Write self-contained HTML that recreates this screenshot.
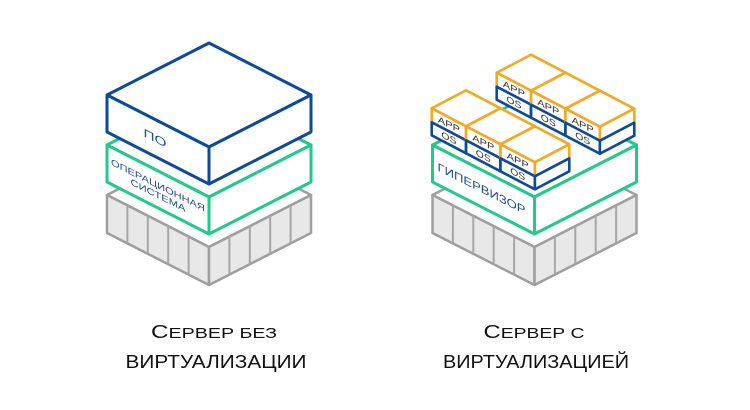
<!DOCTYPE html>
<html>
<head>
<meta charset="utf-8">
<style>
  html, body { margin: 0; padding: 0; background: #ffffff; }
  body { width: 750px; height: 410px; overflow: hidden; }
  svg { display: block; }
  .gray { fill: #e8e8e8; stroke: #9e9e9e; stroke-width: 2.5; stroke-linejoin: round; }
  .graytop { fill: #ffffff; stroke: #9e9e9e; stroke-width: 2.5; stroke-linejoin: round; }
  .div { stroke: #a6a6a6; stroke-width: 2; }
  .green { fill: #ffffff; stroke: #22c98c; stroke-width: 3; stroke-linejoin: round; }
  .blue { fill: #ffffff; stroke: #0e4a9c; stroke-width: 3; stroke-linejoin: round; }
  .app { fill: #ffffff; stroke: #f7a823; stroke-width: 2.6; stroke-linejoin: round; }
  .os { fill: #ffffff; stroke: #0e4a9c; stroke-width: 2.6; stroke-linejoin: round; }
  .lbl { font-family: "Liberation Sans", "DejaVu Sans", sans-serif; fill: #1f4e9e; }
  .vml { font-family: "Liberation Sans", "DejaVu Sans", sans-serif; fill: #333333; font-size: 9px; }
  .cap { font-family: "Liberation Sans", "DejaVu Sans", sans-serif; fill: #111111; }
</style>
</head>
<body>
<svg width="750" height="410" viewBox="0 0 750 410" xmlns="http://www.w3.org/2000/svg">

  <!-- ============ LEFT STACK ============ -->
  <g>
    <polygon class="graytop" points="107,195 209,143 311,195 209,247"/>
    <polygon class="gray" points="107,195 209,247 209,285 107,233"/>
    <polygon class="gray" points="209,247 311,195 311,233 209,285"/>
    <line class="div" x1="127.4" y1="205.4" x2="127.4" y2="243.4"/>
    <line class="div" x1="147.8" y1="215.8" x2="147.8" y2="253.8"/>
    <line class="div" x1="168.2" y1="226.2" x2="168.2" y2="264.2"/>
    <line class="div" x1="188.6" y1="236.6" x2="188.6" y2="274.6"/>
    <line class="div" x1="229.4" y1="236.6" x2="229.4" y2="274.6"/>
    <line class="div" x1="249.8" y1="226.2" x2="249.8" y2="264.2"/>
    <line class="div" x1="270.2" y1="215.8" x2="270.2" y2="253.8"/>
    <line class="div" x1="290.6" y1="205.4" x2="290.6" y2="243.4"/>
  </g>
  <g>
    <polygon class="green" points="107,145 209,93 311,145 209,197"/>
    <polygon class="green" points="107,145 209,197 209,234 107,182"/>
    <polygon class="green" points="209,197 311,145 311,182 209,234"/>
  </g>
  <g>
    <polygon class="blue" points="107,95 209,43 311,95 209,147"/>
    <polygon class="blue" points="107,95 209,147 209,184 107,132"/>
    <polygon class="blue" points="209,147 311,95 311,132 209,184"/>
  </g>
  <g transform="translate(158,139.5) matrix(1,0.5,0,1,0,0)">
    <text class="lbl" x="-3" y="4" font-size="11.5" text-anchor="middle" textLength="23" lengthAdjust="spacingAndGlyphs">ПО</text>
  </g>
  <g transform="translate(158,189.5) matrix(1,0.5,0,1,0,0)">
    <text class="lbl" x="0" y="-1.2" font-size="9" text-anchor="middle" textLength="94" lengthAdjust="spacingAndGlyphs">ОПЕРАЦИОННАЯ</text>
    <text class="lbl" x="0" y="8.8" font-size="9" text-anchor="middle" textLength="55" lengthAdjust="spacingAndGlyphs">СИСТЕМА</text>
  </g>

  <!-- ============ RIGHT STACK ============ -->
  <g transform="translate(325.5,0)">
    <polygon class="graytop" points="107,195 209,143 311,195 209,247"/>
    <polygon class="gray" points="107,195 209,247 209,285 107,233"/>
    <polygon class="gray" points="209,247 311,195 311,233 209,285"/>
    <line class="div" x1="127.4" y1="205.4" x2="127.4" y2="243.4"/>
    <line class="div" x1="147.8" y1="215.8" x2="147.8" y2="253.8"/>
    <line class="div" x1="168.2" y1="226.2" x2="168.2" y2="264.2"/>
    <line class="div" x1="188.6" y1="236.6" x2="188.6" y2="274.6"/>
    <line class="div" x1="229.4" y1="236.6" x2="229.4" y2="274.6"/>
    <line class="div" x1="249.8" y1="226.2" x2="249.8" y2="264.2"/>
    <line class="div" x1="270.2" y1="215.8" x2="270.2" y2="253.8"/>
    <line class="div" x1="290.6" y1="205.4" x2="290.6" y2="243.4"/>

    <polygon class="green" points="107,145 209,93 311,145 209,197"/>
    <polygon class="green" points="107,145 209,197 209,234 107,182"/>
    <polygon class="green" points="209,197 311,145 311,182 209,234"/>
  </g>
  <g transform="translate(483.5,189.5) matrix(1,0.5,0,1,0,0)">
    <text class="lbl" x="-2" y="4" font-size="11.5" text-anchor="middle" textLength="88" lengthAdjust="spacingAndGlyphs">ГИПЕРВИЗОР</text>
  </g>

  <!-- VMs back row -->
  <g transform="translate(496.7,72.7)">
    <polygon class="app" points="0,0 34.4,-18 68.8,0 34.4,18"/>
    <polygon class="app" points="0,0 34.4,18 34.4,32 0,14"/>
    <polygon class="app" points="34.4,18 68.8,0 68.8,14 34.4,32"/>
    <polygon class="os" points="0,14 34.4,32 34.4,45 0,27"/>
    <polygon class="os" points="34.4,32 68.8,14 68.8,27 34.4,45"/>
    <g transform="translate(17.2,16) matrix(1,0.5,0,1,0,0)"><text class="vml" x="0" y="3.2" text-anchor="middle" textLength="22" lengthAdjust="spacingAndGlyphs">APP</text></g>
    <g transform="translate(17.2,29.5) matrix(1,0.5,0,1,0,0)"><text class="vml" x="0" y="3.2" text-anchor="middle" textLength="15" lengthAdjust="spacingAndGlyphs">OS</text></g>
  </g>
  <g transform="translate(531.1,90.7)">
    <polygon class="app" points="0,0 34.4,-18 68.8,0 34.4,18"/>
    <polygon class="app" points="0,0 34.4,18 34.4,32 0,14"/>
    <polygon class="app" points="34.4,18 68.8,0 68.8,14 34.4,32"/>
    <polygon class="os" points="0,14 34.4,32 34.4,45 0,27"/>
    <polygon class="os" points="34.4,32 68.8,14 68.8,27 34.4,45"/>
    <g transform="translate(17.2,16) matrix(1,0.5,0,1,0,0)"><text class="vml" x="0" y="3.2" text-anchor="middle" textLength="22" lengthAdjust="spacingAndGlyphs">APP</text></g>
    <g transform="translate(17.2,29.5) matrix(1,0.5,0,1,0,0)"><text class="vml" x="0" y="3.2" text-anchor="middle" textLength="15" lengthAdjust="spacingAndGlyphs">OS</text></g>
  </g>
  <g transform="translate(565.5,108.7)">
    <polygon class="app" points="0,0 34.4,-18 68.8,0 34.4,18"/>
    <polygon class="app" points="0,0 34.4,18 34.4,32 0,14"/>
    <polygon class="app" points="34.4,18 68.8,0 68.8,14 34.4,32"/>
    <polygon class="os" points="0,14 34.4,32 34.4,45 0,27"/>
    <polygon class="os" points="34.4,32 68.8,14 68.8,27 34.4,45"/>
    <g transform="translate(17.2,16) matrix(1,0.5,0,1,0,0)"><text class="vml" x="0" y="3.2" text-anchor="middle" textLength="22" lengthAdjust="spacingAndGlyphs">APP</text></g>
    <g transform="translate(17.2,29.5) matrix(1,0.5,0,1,0,0)"><text class="vml" x="0" y="3.2" text-anchor="middle" textLength="15" lengthAdjust="spacingAndGlyphs">OS</text></g>
  </g>

  <!-- VMs front row -->
  <g transform="translate(431.7,108.3)">
    <polygon class="app" points="0,0 34.4,-18 68.8,0 34.4,18"/>
    <polygon class="app" points="0,0 34.4,18 34.4,32 0,14"/>
    <polygon class="app" points="34.4,18 68.8,0 68.8,14 34.4,32"/>
    <polygon class="os" points="0,14 34.4,32 34.4,45 0,27"/>
    <polygon class="os" points="34.4,32 68.8,14 68.8,27 34.4,45"/>
    <g transform="translate(17.2,16) matrix(1,0.5,0,1,0,0)"><text class="vml" x="0" y="3.2" text-anchor="middle" textLength="22" lengthAdjust="spacingAndGlyphs">APP</text></g>
    <g transform="translate(17.2,29.5) matrix(1,0.5,0,1,0,0)"><text class="vml" x="0" y="3.2" text-anchor="middle" textLength="15" lengthAdjust="spacingAndGlyphs">OS</text></g>
  </g>
  <g transform="translate(466.1,126.3)">
    <polygon class="app" points="0,0 34.4,-18 68.8,0 34.4,18"/>
    <polygon class="app" points="0,0 34.4,18 34.4,32 0,14"/>
    <polygon class="app" points="34.4,18 68.8,0 68.8,14 34.4,32"/>
    <polygon class="os" points="0,14 34.4,32 34.4,45 0,27"/>
    <polygon class="os" points="34.4,32 68.8,14 68.8,27 34.4,45"/>
    <g transform="translate(17.2,16) matrix(1,0.5,0,1,0,0)"><text class="vml" x="0" y="3.2" text-anchor="middle" textLength="22" lengthAdjust="spacingAndGlyphs">APP</text></g>
    <g transform="translate(17.2,29.5) matrix(1,0.5,0,1,0,0)"><text class="vml" x="0" y="3.2" text-anchor="middle" textLength="15" lengthAdjust="spacingAndGlyphs">OS</text></g>
  </g>
  <g transform="translate(500.5,144.3)">
    <polygon class="app" points="0,0 34.4,-18 68.8,0 34.4,18"/>
    <polygon class="app" points="0,0 34.4,18 34.4,32 0,14"/>
    <polygon class="app" points="34.4,18 68.8,0 68.8,14 34.4,32"/>
    <polygon class="os" points="0,14 34.4,32 34.4,45 0,27"/>
    <polygon class="os" points="34.4,32 68.8,14 68.8,27 34.4,45"/>
    <g transform="translate(17.2,16) matrix(1,0.5,0,1,0,0)"><text class="vml" x="0" y="3.2" text-anchor="middle" textLength="22" lengthAdjust="spacingAndGlyphs">APP</text></g>
    <g transform="translate(17.2,29.5) matrix(1,0.5,0,1,0,0)"><text class="vml" x="0" y="3.2" text-anchor="middle" textLength="15" lengthAdjust="spacingAndGlyphs">OS</text></g>
  </g>

  <!-- ============ CAPTIONS ============ -->
  <text class="cap" x="214" y="338" text-anchor="middle" textLength="126" lengthAdjust="spacingAndGlyphs"><tspan font-size="18.5">С</tspan><tspan font-size="15">ЕРВЕР БЕЗ</tspan></text>
  <text class="cap" x="216" y="368" font-size="18" text-anchor="middle" textLength="181" lengthAdjust="spacingAndGlyphs">ВИРТУАЛИЗАЦИИ</text>

  <text class="cap" x="534" y="338" text-anchor="middle" textLength="101" lengthAdjust="spacingAndGlyphs"><tspan font-size="18.5">С</tspan><tspan font-size="15">ЕРВЕР С</tspan></text>
  <text class="cap" x="536" y="368" font-size="18" text-anchor="middle" textLength="186" lengthAdjust="spacingAndGlyphs">ВИРТУАЛИЗАЦИЕЙ</text>
</svg>
</body>
</html>
